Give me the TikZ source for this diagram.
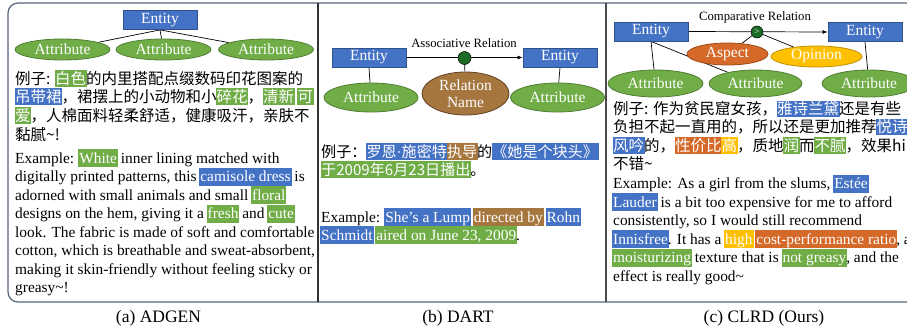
\documentclass[tikz,border=0pt]{standalone}
\usepackage{fontspec}
\setmainfont{Liberation Serif}
\newfontfamily\cjk{Noto Sans CJK SC}
\usetikzlibrary{shapes.geometric,arrows.meta}
\pgfdeclarelayer{background}
\pgfdeclarelayer{canvas}
\pgfsetlayers{canvas,background,main}
\definecolor{entblue}{HTML}{4472C4}
\definecolor{entdark}{HTML}{2F528F}
\definecolor{attgreen}{HTML}{70AD47}
\definecolor{attdark}{HTML}{507E32}
\definecolor{relbrown}{HTML}{A6763F}
\definecolor{reldark}{HTML}{5E4020}
\definecolor{asporange}{HTML}{D5692A}
\definecolor{aspdark}{HTML}{9E4A18}
\definecolor{opyellow}{HTML}{FFC000}
\definecolor{opdark}{HTML}{C09000}
\definecolor{dotgreen}{HTML}{1C6B24}
\definecolor{framecol}{HTML}{56657A}
\newcommand\hle[2]{\kern-1pt\relax{\setlength\fboxsep{0pt}\colorbox{#1}{\kern1pt\relax\rule[-4pt]{0pt}{18pt}\textcolor{white}{#2}\kern1pt\relax}}\kern-1pt\relax}
\newcommand\hlc[2]{\kern-0.5pt\relax{\setlength\fboxsep{0pt}\colorbox{#1}{\kern0.5pt\relax\rule[-2.5pt]{0pt}{16.5pt}\textcolor{white}{#2}\kern0.5pt\relax}}\kern-0.5pt\relax}
\newcommand\mdot{{\rmfamily\char"00B7}}
\tikzset{
  entitybox/.style={rectangle, fill=entblue, draw=entdark, line width=0.8pt, minimum width=74pt, minimum height=19pt, inner sep=0pt, text=white, font=\fontsize{15.5}{17}\selectfont},
  attrell/.style={ellipse, fill=attgreen, draw=attdark, line width=0.8pt, inner sep=0pt, text=white, font=\fontsize{15.5}{17}\selectfont},
  relell/.style={ellipse, draw=#1, line width=0.8pt, inner sep=0pt, text=white, font=\fontsize{15.5}{17}\selectfont},
  enline/.style={anchor=base west, inner sep=0pt, font=\fontsize{15.4}{18}\selectfont},
  cnline/.style={anchor=base west, inner sep=0pt, font=\cjk\fontsize{15.5}{18}\selectfont},
  cnlineb/.style={anchor=base west, inner sep=0pt, font=\cjk\fontsize{15.1}{18}\selectfont},
  conn/.style={draw=black, line width=0.7pt},
  arrowconn/.style={draw=black, line width=0.7pt, -{Latex[length=5pt,width=4pt]}},
  reldot/.style={circle, fill=dotgreen, draw=black, line width=0.5pt, minimum size=13pt, inner sep=0pt},
  rellabel/.style={anchor=base, font=\fontsize{12.7}{14}\selectfont, inner sep=0pt},
  captext/.style={anchor=base, font=\fontsize{17.5}{20}\selectfont, inner sep=0pt},
}
\begin{document}
\begin{tikzpicture}[x=1pt,y=-1pt]
\clip (0,0) rectangle (907,330);
\begin{pgfonlayer}{canvas}
\fill[white] (0,0) rectangle (907,330);
\end{pgfonlayer}
\draw[framecol, line width=1.2pt, rounded corners=10pt] (8,3) rectangle (916,302);
\draw[black!80, line width=1.2pt] (318,3) -- (318,302);
\draw[black!70, line width=1.2pt] (606,3) -- (606,302);

% ---------- (a) ADGEN ----------
\node[entitybox] (a_e) at (160,20) {Entity};
\node[attrell, minimum width=95pt, minimum height=21pt] (a_a1) at (62.5,49.5) {Attribute};
\node[attrell, minimum width=95pt, minimum height=21pt] (a_a2) at (163.5,49.5) {Attribute};
\node[attrell, minimum width=95pt, minimum height=21pt] (a_a3) at (266,49.5) {Attribute};
\begin{pgfonlayer}{background}
\draw[conn] (a_e.south) -- (a_a1);
\draw[conn] (a_e.south) -- (a_a2);
\draw[conn] (a_e.south) -- (a_a3);
\end{pgfonlayer}
\node[cnline] (a_z1) at (15,84) {例子: \hlc{attgreen}{白色}的内里搭配点缀数码印花图案的};
\node[cnline] (a_z2) at (15,102) {\hlc{entblue}{吊带裙}，裙摆上的小动物和小\hlc{attgreen}{碎花}，\hlc{attgreen}{清新} \hlc{attgreen}{可}};
\node[cnline] (a_z3) at (15,121) {\hlc{attgreen}{爱}，人棉面料轻柔舒适，健康吸汗，亲肤不};
\node[cnline] (a_z4) at (15,140) {黏腻\textasciitilde!};
\node[enline] (a_t1) at (15,163) {Example: \hle{attgreen}{White} inner lining matched with};
\node[enline] (a_t2) at (15,181.5) {digitally printed patterns, this \hle{entblue}{camisole dress} is};
\node[enline] (a_t3) at (15,200) {adorned with small animals and small \hle{attgreen}{floral}};
\node[enline] (a_t4) at (15,218.5) {designs on the hem, giving it a \hle{attgreen}{fresh} and \hle{attgreen}{cute}};
\node[enline] (a_t5) at (15,237) {look. The fabric is made of soft and comfortable};
\node[enline] (a_t6) at (15,255.5) {cotton, which is breathable and sweat-absorbent,};
\node[enline] (a_t7) at (15,274) {making it skin-friendly without feeling sticky or};
\node[enline] (a_t8) at (15,292.5) {greasy\textasciitilde!};
\node[captext] (a_cap) at (158.5,322.5) {(a) ADGEN};

% ---------- (b) DART ----------
\node[entitybox] (b_e1) at (369,57.5) {Entity};
\node[entitybox] (b_e2) at (560,57.5) {Entity};
\node[reldot] (b_r) at (464.5,58) {};
\node[rellabel] (b_lab) at (464,47.5) {Associative Relation};
\node[relell=reldark, fill=relbrown, minimum width=87pt, minimum height=43pt, align=center] (b_rel) at (465.5,93.5) {Relation\\Name};
\node[attrell, minimum width=94pt, minimum height=29pt] (b_a1) at (371,97.5) {Attribute};
\node[attrell, minimum width=94pt, minimum height=29pt] (b_a2) at (557.5,97.5) {Attribute};
\begin{pgfonlayer}{background}
\draw[arrowconn] (b_e1.east) -- (b_e2.west);
\draw[conn] (b_r) -- (b_rel);
\draw[conn] (b_e1.south) -- (b_a1);
\draw[conn] (b_e2.south) -- (b_a2);
\end{pgfonlayer}
\node[cnlineb] (b_z1) at (321,157) {例子：\hlc{entblue}{罗恩\mdot 施密特}\hlc{relbrown}{执导}的\hlc{entblue}{《她是个块头》}};
\node[cnlineb] (b_z2) at (321,175) {\hlc{attgreen}{于2009年6月23日播出}。};
\node[enline] (b_t1) at (321,222) {Example: \hle{entblue}{She's a Lump} \hle{relbrown}{directed by} \hle{entblue}{Rohn}};
\node[enline] (b_t2) at (321,240) {\hle{entblue}{Schmidt} \hle{attgreen}{aired on June 23, 2009}.};
\node[captext] (b_cap) at (458,322.5) {(b) DART};

% ---------- (c) CLRD ----------
\node[entitybox] (c_e1) at (651,31.5) {Entity};
\node[entitybox] (c_e2) at (865,32) {Entity};
\node[reldot, minimum size=12pt] (c_r) at (757,32) {\textcolor{white}{\fontsize{9}{9}\selectfont >}};
\node[rellabel] (c_lab) at (755,20.5) {Comparative Relation};
\node[relell=aspdark, fill=asporange, minimum width=81pt, minimum height=22pt] (c_asp) at (727.5,54) {Aspect};
\node[relell=opdark, fill=opyellow, minimum width=91pt, minimum height=21pt] (c_op) at (816.5,56.5) {Opinion};
\node[attrell, minimum width=95pt, minimum height=27pt] (c_a1) at (655.5,83.5) {Attribute};
\node[attrell, minimum width=93pt, minimum height=27pt] (c_a2) at (755.5,83.5) {Attribute};
\node[attrell, minimum width=94pt, minimum height=27pt] (c_a3) at (869,83.5) {Attribute};
\begin{pgfonlayer}{background}
\draw[arrowconn] (c_e1.east) -- (c_e2.west);
\draw[conn] (c_r) -- (c_asp);
\draw[conn] (c_r) -- (c_op);
\draw[conn] (c_e1.south) -- (c_a1);
\draw[conn] (c_e1.south) -- (c_a2);
\draw[conn] (c_e2.south) -- (c_a3);
\end{pgfonlayer}
\node[cnline] (c_z1) at (613,114.5) {例子: 作为贫民窟女孩，\hlc{entblue}{雅诗兰黛}还是有些};
\node[cnline] (c_z2) at (613,132.5) {负担不起一直用的，所以还是更加推荐\hlc{entblue}{悦诗}};
\node[cnline] (c_z3) at (613,151) {\hlc{entblue}{风吟}的，\hlc{asporange}{性价比}\hlc{opyellow}{高}，质地\hlc{attgreen}{润}而\hlc{attgreen}{不腻}，效果hin};
\node[cnline] (c_z4) at (613,169) {不错\textasciitilde};
\node[enline] (c_t1) at (613,188.5) {Example: As a girl from the slums, \hle{entblue}{Estée}};
\node[enline] (c_t2) at (613,207) {\hle{entblue}{Lauder} is a bit too expensive for me to afford};
\node[enline] (c_t3) at (613,225.5) {consistently, so I would still recommend};
\node[enline] (c_t4) at (613,244) {\hle{entblue}{Innisfree}. It has a \hle{opyellow}{high} \hle{asporange}{cost-performance ratio}, a};
\node[enline] (c_t5) at (613,262.5) {\hle{attgreen}{moisturizing} texture that is \hle{attgreen}{not greasy}, and the};
\node[enline] (c_t6) at (613,281) {effect is really good\textasciitilde};
\node[captext] (c_cap) at (764,322.5) {(c) CLRD (Ours)};
\end{tikzpicture}
\end{document}
